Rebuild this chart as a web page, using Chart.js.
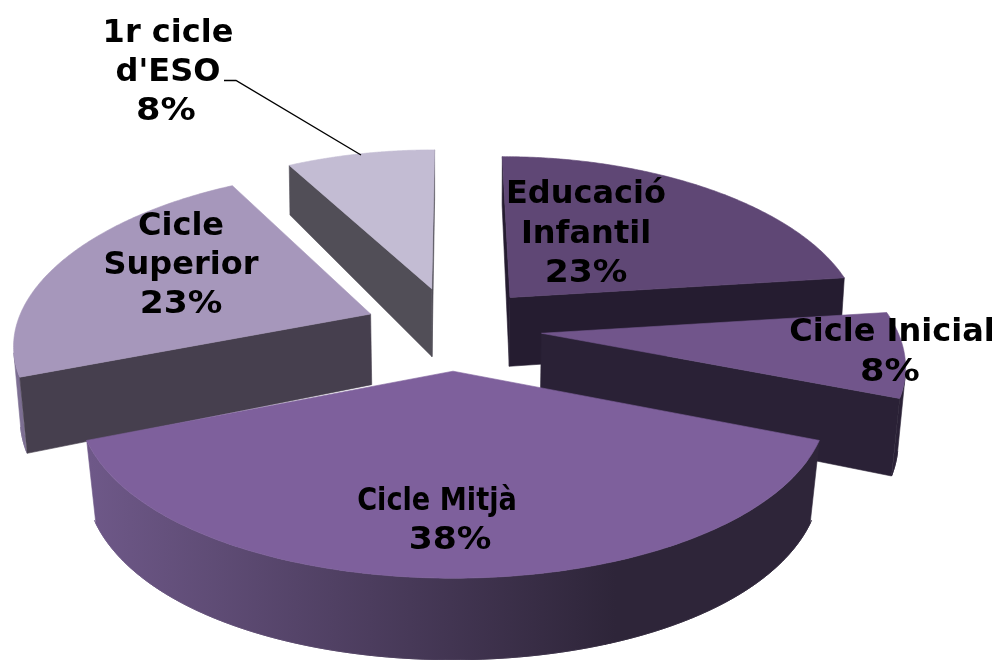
<!DOCTYPE html>
<html><head><meta charset="utf-8">
<style>html,body{margin:0;padding:0;background:#fff;overflow:hidden}canvas{display:block}</style>
<script src="https://cdn.jsdelivr.net/npm/chart.js@4/dist/chart.umd.min.js"></script>
</head><body><canvas id="c" width="1003" height="660"></canvas>
<script>
const categories = ["Educació Infantil","Cicle Inicial","Cicle Mitjà","Cicle Superior","1r cicle d'ESO"];
const values = [23,8,38,23,8];
const topColors = ["#5F4775","#71558B","#7E609C","#A697BB","#C3BCD3"];
const sideColors = ["#251C30","#2A2136","#33293F","#463F4E","#514E57"];
const outerLeft = ["#3a2d49","#2A2136","#6E5888","#7C6E92","#8A8598"];
const outerRight = ["#251C30","#2A2136","#2E2539","#463F4E","#514E57"];
const labelLines = [["Educació","Infantil","23%"],["Cicle Inicial","8%"],["Cicle Mitjà","38%"],["Cicle","Superior","23%"],["1r cicle","d'ESO","8%"]];
const labelCenterX = [[586,586,586],[892,890],[437,450],[181,181,181],[168,168,166]];
const labelFirstBaseline = [203,341,510,235,42];
const lineStep = [39.5,40,39,39,39];
const labelScaleX = [[1,1,1.08],[1,1.1],[0.85,1.08],[1,1,1.08],[1,1,1.1]];
const drawOrder = [4,0,3,1,2];

// projection of the tilted pie: top plane and bottom plane
const view = {cx:453, explode:0.25,
  top:{cy:328, rx:355, ry:167, p:0.1325, px:0.16},
  bottom:{cy:400, rx:350, ry:183, p:0.0955, px:0.15}};
function project(u,v,plane){
  return [view.cx + plane.rx*u/(1+plane.px*v), plane.cy - plane.ry*v/(1+plane.p*v)];
}
const pie3d = {
  id:'pie3d',
  beforeDatasetDraw(chart,args){
    const ctx = chart.ctx, arcs = args.meta.data;
    const fill = (pts,c)=>{ctx.beginPath();pts.forEach((p,i)=>i?ctx.lineTo(p[0],p[1]):ctx.moveTo(p[0],p[1]));ctx.closePath();ctx.fillStyle=c;ctx.strokeStyle=c;ctx.lineWidth=0.6;ctx.fill();ctx.stroke();};
    const facing = q => {let s=0;for(let i=0;i<q.length;i++){const a=q[i],b=q[(i+1)%q.length];s+=a[0]*b[1]-b[0]*a[1];}return s;};
    drawOrder.forEach(i=>{
      const arc = arcs[i], a0 = arc.startAngle+Math.PI/2, a1 = arc.endAngle+Math.PI/2, m=(a0+a1)/2;
      const ox = view.explode*Math.sin(m), oy = view.explode*Math.cos(m);
      const at = (th,pl)=>project(ox+Math.sin(th),oy+Math.cos(th),pl);
      const tipT = project(ox,oy,view.top), tipB = project(ox,oy,view.bottom);
      // outer wall: the stretch of the rim that faces the viewer
      const n = 140, g = ctx.createLinearGradient(90,0,820,0);
      g.addColorStop(0,outerLeft[i]); g.addColorStop(0.72,outerRight[i]); g.addColorStop(1,outerRight[i]);
      const upper=[], lower=[];
      for(let k=0;k<n;k++){
        const t0=a0+(a1-a0)*k/n, t1=a0+(a1-a0)*(k+1)/n;
        const q=[at(t0,view.top),at(t1,view.top),at(t1,view.bottom),at(t0,view.bottom)];
        if(facing(q)<0){ upper.push(q[0],q[1]); lower.unshift(q[3],q[2]); }
      }
      if(upper.length) fill(upper.concat(lower),g);
      // radial walls: only those turned toward the viewer
      const w0 = [tipT,at(a0,view.top),at(a0,view.bottom),tipB];
      const w1 = [tipB,at(a1,view.bottom),at(a1,view.top),tipT];
      if(facing(w0)<0) fill(w0,sideColors[i]);
      if(facing(w1)<0) fill(w1,sideColors[i]);
      // top face
      const top=[tipT]; for(let k=0;k<=n;k++) top.push(at(a0+(a1-a0)*k/n,view.top));
      fill(top,topColors[i]);
    });
    return false;
  },
  afterDraw(chart){
    const ctx = chart.ctx;
    ctx.save();
    ctx.strokeStyle='#000';ctx.lineWidth=1.4;
    ctx.beginPath();ctx.moveTo(224,80.5);ctx.lineTo(236,80.5);ctx.lineTo(361,155);ctx.stroke();
    ctx.fillStyle='#000';ctx.font='bold 32px "DejaVu Sans"';ctx.textAlign='center';ctx.textBaseline='alphabetic';
    labelLines.forEach((ls,i)=>ls.forEach((s,j)=>{
      ctx.save();
      ctx.translate(labelCenterX[i][j],labelFirstBaseline[i]+j*lineStep[i]);
      ctx.scale(labelScaleX[i][j],1);
      ctx.fillText(s,0,0);
      ctx.restore();
    }));
    ctx.restore();
  }
};
new Chart(document.getElementById('c'),{
  type:'pie',
  data:{labels:categories,datasets:[{data:values,backgroundColor:topColors,borderWidth:0}]},
  options:{responsive:false,animation:false,rotation:0,
    plugins:{legend:{display:false},tooltip:{enabled:false}}},
  plugins:[pie3d]
});
</script></body></html>
